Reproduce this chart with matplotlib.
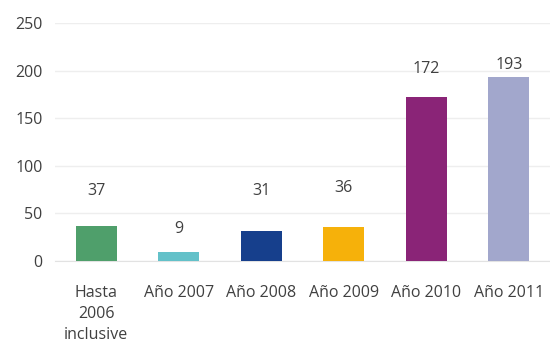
import matplotlib.pyplot as plt

categories = ["Hasta\n2006\ninclusive", "Año 2007", "Año 2008", "Año 2009", "Año 2010", "Año 2011"]
values = [37, 9, 31, 36, 172, 193]
colors = ["#4f9f6b", "#63c1c9", "#163f8c", "#f6b10a", "#8a2477", "#a2a7cc"]
# label offsets above bar top, in points (as in the source)
label_offsets = [25, 17, 29, 28, 20, 9]

plt.rcParams["font.family"] = ["Open Sans", "DejaVu Sans"]

fig = plt.figure(figsize=(5.5, 3.45), dpi=100)
ax = fig.add_axes([55 / 550, 1 - 261 / 345, 495 / 550, 238 / 345])

x = range(len(values))
ax.bar(x, values, width=0.5, color=colors, zorder=3)
for i, v in enumerate(values):
    ax.annotate(str(v), (i, v), xytext=(0, label_offsets[i]), textcoords="offset points",
                ha="center", va="center", fontsize=11.5, color="#404040")

ax.set_xlim(-0.5, len(values) - 0.5)
ax.set_ylim(0, 250)
ax.set_yticks(range(0, 251, 50))
ax.set_xticks(list(x))
ax.set_xticklabels(categories, linespacing=1.45, va="top")
ax.tick_params(axis="both", length=0, labelsize=11.5, colors="#404040")
ax.tick_params(axis="x", pad=17)
ax.tick_params(axis="y", pad=9)
ax.grid(axis="y", color="#eeeeee", linewidth=1, zorder=0)
for side in ("top", "right", "left"):
    ax.spines[side].set_visible(False)
ax.spines["bottom"].set_color("#e2e2e2")

fig.savefig("out.png", dpi=100)
